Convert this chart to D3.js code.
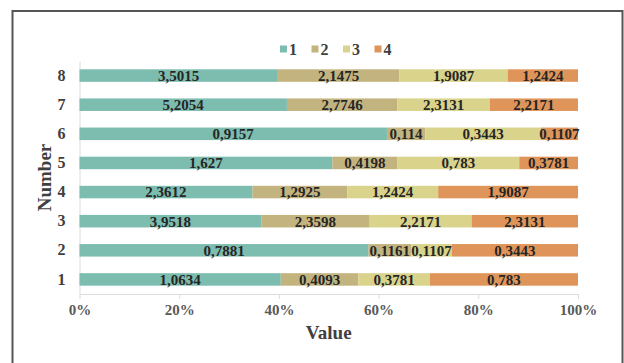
<!DOCTYPE html>
<html>
<head>
<meta charset="utf-8">
<script src="https://cdn.jsdelivr.net/npm/d3@7"></script>
<style>
  html, body { margin: 0; padding: 0; background: #fff; }
  svg { display: block; }
  text { font-family: "Liberation Serif", "Times New Roman", serif; font-weight: bold; }
</style>
</head>
<body>
<svg id="chart" width="624" height="363"></svg>
<script>
// Categories (bottom to top) and the four stacked series
const categories = ["1", "2", "3", "4", "5", "6", "7", "8"];
const seriesNames = ["1", "2", "3", "4"];
const series1 = [1.0634, 0.7881, 3.9518, 2.3612, 1.627, 0.9157, 5.2054, 3.5015];
const series2 = [0.4093, 0.1161, 2.3598, 1.2925, 0.4198, 0.114, 2.7746, 2.1475];
const series3 = [0.3781, 0.1107, 2.2171, 1.2424, 0.783, 0.3443, 2.3131, 1.9087];
const series4 = [0.783, 0.3443, 2.3131, 1.9087, 0.3781, 0.1107, 2.2171, 1.2424];
const tickValues = [0, 0.2, 0.4, 0.6, 0.8, 1.0];
const colors = ["#7dbdaf", "#c3b47f", "#d9d38b", "#df955a"];

const seriesValues = [series1, series2, series3, series4];
const rows = categories.map((c, i) => {
  const row = { category: c };
  seriesNames.forEach((s, k) => { row[s] = seriesValues[k][i]; });
  return row;
});

const svg = d3.select("#chart");
const margin = { left: 79.5, right: 46, top: 61, bottom: 69 };
const W = 624, H = 363;

// Outer frame (left, top, right)
svg.append("path")
  .attr("d", `M12.5,${H} V11 H622.5 V${H}`)
  .attr("fill", "none")
  .attr("stroke", "#555")
  .attr("stroke-width", 2);

const x = d3.scaleLinear().domain([0, 1]).range([margin.left, W - margin.right]);
const y = d3.scaleBand()
  .domain(categories.slice().reverse())
  .range([margin.top, H - margin.bottom])
  .paddingInner(0.57)
  .paddingOuter(0.285);

const stack = d3.stack().keys(seriesNames).offset(d3.stackOffsetExpand);
const stacked = stack(rows);

// Value axis baseline + ticks
const xAxis = d3.axisBottom(x).tickValues(tickValues)
  .tickFormat(d3.format(".0%")).tickSize(5).tickSizeOuter(0);
const gx = svg.append("g")
  .attr("transform", `translate(0,${H - margin.bottom})`)
  .call(xAxis);
gx.select(".domain").attr("stroke", "#dcdcdc").attr("stroke-width", 1);
gx.selectAll(".tick line").attr("stroke", "#dcdcdc");
gx.selectAll(".tick text")
  .attr("dy", "0.87em")
  .attr("fill", "#595959")
  .style("font-size", "15px")
  .style("font-family", "Liberation Serif, serif")
  .style("font-weight", "bold");

// Category axis line
const gy = svg.append("g")
  .attr("transform", `translate(${margin.left},0)`)
  .call(d3.axisLeft(y).tickSize(0).tickPadding(14));
gy.select(".domain").attr("stroke", "#dcdcdc").attr("stroke-width", 1);
gy.selectAll(".tick text")
  .attr("fill", "#404040")
  .style("font-size", "16px")
  .style("font-family", "Liberation Serif, serif")
  .style("font-weight", "bold");

// Bars
const layers = svg.append("g").selectAll("g")
  .data(stacked)
  .join("g")
  .attr("fill", (d, i) => colors[i]);

layers.selectAll("rect")
  .data(d => d)
  .join("rect")
  .attr("x", d => x(d[0]))
  .attr("y", d => y(d.data.category))
  .attr("width", d => x(d[1]) - x(d[0]))
  .attr("height", y.bandwidth());

// Segment value labels
const fmt = v => String(v).replace(".", ",");
const labels = svg.append("g");
stacked.forEach(layer => {
  layer.forEach(d => {
    labels.append("text")
      .attr("x", (x(d[0]) + x(d[1])) / 2)
      .attr("y", y(d.data.category) + y.bandwidth() / 2)
      .attr("dy", "0.36em")
      .attr("text-anchor", "middle")
      .attr("fill", "#262626")
      .style("font-size", "15px")
      .text(fmt(d.data[layer.key]));
  });
});

// Legend
const legendItems = seriesNames.map((s, i) => ({ name: s, color: colors[i] }));
const itemW = 31.5;
const legendX = 280;
const legend = svg.append("g").attr("transform", `translate(${legendX},49)`);
const li = legend.selectAll("g").data(legendItems).join("g")
  .attr("transform", (d, i) => `translate(${i * itemW},0)`);
li.append("rect").attr("x", 0).attr("y", -3.5).attr("width", 7).attr("height", 7)
  .attr("fill", d => d.color);
li.append("text").attr("x", 9).attr("dy", "0.36em")
  .attr("fill", "#404040").style("font-size", "16px").text(d => d.name);

// Axis titles
svg.append("text")
  .attr("x", (margin.left + W - margin.right) / 2)
  .attr("y", 332)
  .attr("dy", "0.36em")
  .attr("text-anchor", "middle")
  .attr("fill", "#404040")
  .style("font-size", "19px")
  .text("Value");

svg.append("text")
  .attr("transform", `translate(44,${(margin.top + H - margin.bottom) / 2}) rotate(-90)`)
  .attr("dy", "0.36em")
  .attr("text-anchor", "middle")
  .attr("fill", "#404040")
  .style("font-size", "19px")
  .text("Number");
</script>
</body>
</html>
